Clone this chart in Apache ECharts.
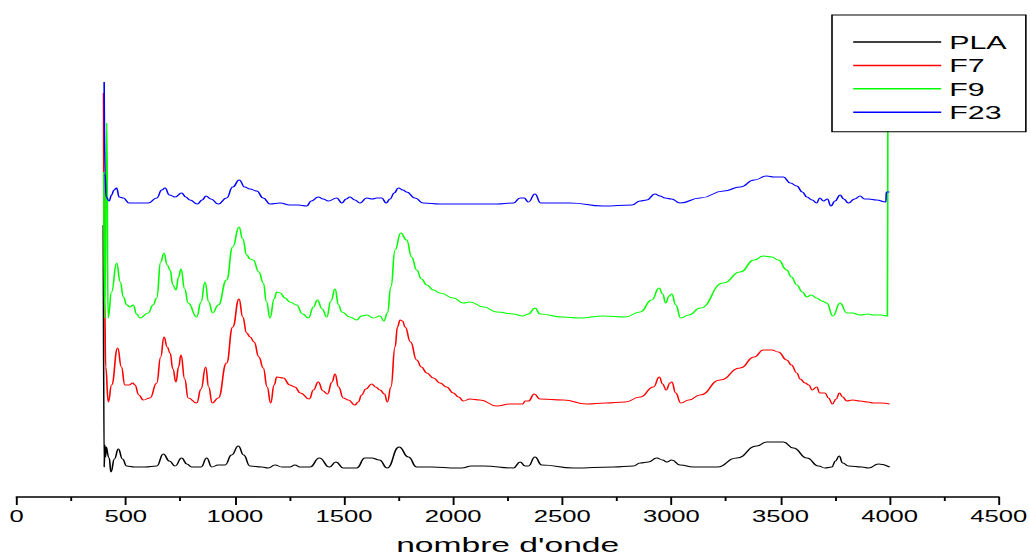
<!DOCTYPE html>
<html>
<head>
<meta charset="utf-8">
<script src="https://cdn.jsdelivr.net/npm/echarts@6.0.0/dist/echarts.min.js"></script>
<style>
  html, body { margin: 0; padding: 0; background: #fff; overflow: hidden; }
  #wrap { width: 1030px; height: 556px; overflow: hidden; }
  /* the figure is laid out narrow and stretched horizontally */
  #chart { width: 644px; height: 556px; transform: scaleX(1.6); transform-origin: 0 0; }
</style>
</head>
<body>
<div id="wrap"><div id="chart"></div></div>
<script>
// FTIR spectra, stacked with vertical offsets: [wavenumber (cm-1), intensity (a.u.)]
const seriesNames = ['PLA', 'F7', 'F9', 'F23'];
const seriesColors = ['#000000', '#ff0000', '#00ff00', '#0000ff'];

const PLA = [[397,272],[401,30],[404,52],[407,40],[411,50],[416,50],[424,39],[432,25],[448,38],[466,48],[485,38],[504,31],[540,30],[588,30],[642,31],[672,43],[700,36],[726,31],[756,39],[780,33],[802,30],[845,30],[871,39],[894,30],[924,32],[955,32],[985,42],[1016,51],[1040,42],[1069,31],[1123,30],[1153,29],[1184,32],[1215,30],[1252,30],[1275,32],[1298,30],[1344,30],[1387,39],[1433,30],[1463,35],[1497,29],[1558,29],[1596,39],[1627,39],[1662,37],[1698,29],[1752,50],[1795,40],[1833,30],[1900,30],[2017,29],[2039,29],[2085,31],[2138,31],[2276,29],[2307,35],[2330,31],[2345,31],[2375,40],[2406,32],[2551,29],[2734,30],[2826,31],[2857,34],[2895,35],[2933,39],[2960,37],[2979,35],[3002,37],[3040,32],[3101,30],[3208,30],[3300,39],[3391,51],[3437,55],[3513,55],[3559,49],[3621,39],[3674,31],[3704,29],[3735,30],[3752,36],[3769,41],[3785,34],[3812,31],[3873,30],[3904,29],[3949,33],[4000,30]];

const F7 = [[398,404],[403,200],[408,130],[420,95],[435,112],[463,149],[480,130],[496,112],[515,112],[532,114],[542,112],[560,102],[580,97],[611,99],[642,114],[660,140],[675,160],[690,150],[703,144],[716,128],[730,115],[742,130],[753,142],[770,118],[786,99],[825,94],[845,108],[866,130],[880,110],[896,94],[924,99],[962,134],[990,170],[1019,198],[1036,180],[1054,164],[1070,160],[1088,155],[1110,140],[1130,129],[1148,110],[1164,94],[1180,112],[1192,120],[1222,119],[1252,112],[1275,110],[1300,104],[1341,98],[1360,107],[1382,115],[1404,106],[1424,103],[1445,115],[1459,123],[1475,110],[1497,99],[1520,97],[1550,92],[1565,95],[1581,102],[1600,108],[1627,113],[1645,110],[1665,107],[1685,103],[1699,95],[1715,110],[1734,150],[1745,170],[1757,177],[1768,176],[1780,170],[1805,155],[1833,137],[1855,130],[1879,124],[1910,119],[1940,114],[1970,110],[2001,104],[2025,100],[2047,96],[2077,98],[2123,97],[2200,91],[2260,93],[2319,93],[2330,96],[2345,96],[2372,103],[2398,98],[2505,97],[2612,93],[2700,94],[2788,95],[2857,100],[2918,110],[2945,120],[2960,113],[2976,107],[2994,114],[3002,115],[3020,104],[3043,94],[3080,97],[3132,102],[3223,117],[3315,129],[3380,140],[3421,147],[3460,147],[3490,145],[3529,137],[3550,132],[3575,124],[3590,118],[3613,114],[3630,112],[3645,107],[3666,110],[3680,104],[3704,104],[3720,99],[3738,93],[3755,98],[3770,104],[3785,100],[3804,96],[3830,97],[3865,96],[3900,95],[3926,94],[3960,94],[4000,93]];

const F9 = [[399,325],[403,179],[413,374],[419,179],[435,205],[458,234],[475,215],[489,200],[505,192],[519,190],[534,192],[550,183],[565,179],[603,184],[625,192],[642,199],[660,235],[675,244],[690,232],[703,227],[716,212],[730,207],[742,220],[753,228],[770,208],[786,194],[825,180],[845,195],[863,215],[880,195],[898,184],[924,192],[962,217],[990,250],[1019,270],[1036,258],[1054,242],[1070,238],[1084,237],[1110,225],[1130,214],[1145,195],[1161,179],[1180,198],[1192,205],[1207,204],[1230,199],[1252,195],[1283,192],[1310,183],[1337,179],[1360,190],[1378,197],[1400,188],[1421,180],[1440,196],[1459,208],[1475,192],[1490,185],[1527,180],[1558,177],[1580,181],[1604,182],[1635,179],[1665,181],[1683,176],[1699,184],[1715,210],[1734,247],[1760,264],[1787,257],[1810,240],[1833,227],[1855,218],[1879,212],[1910,207],[1940,204],[2001,199],[2047,194],[2077,195],[2140,190],[2200,185],[2276,183],[2319,181],[2345,183],[2375,189],[2398,183],[2500,180],[2581,179],[2688,181],[2788,180],[2857,185],[2910,197],[2944,209],[2960,203],[2974,194],[2990,201],[3002,203],[3020,192],[3043,179],[3080,182],[3132,189],[3238,214],[3315,225],[3380,237],[3421,241],[3460,240],[3490,237],[3529,227],[3550,220],[3575,212],[3600,205],[3621,200],[3640,202],[3666,199],[3690,196],[3712,194],[3740,181],[3773,194],[3804,184],[3830,184],[3865,182],[3900,183],[3926,182],[3960,182],[3990,181],[3992,380]];

const F23 = [[401,415],[405,324],[410,300],[424,296],[435,302],[446,307],[458,309],[470,300],[489,299],[515,294],[542,294],[603,294],[642,299],[665,307],[680,309],[700,302],[726,300],[756,304],[775,300],[794,297],[828,293],[850,297],[868,301],[890,298],[924,293],[962,299],[990,310],[1020,317],[1045,310],[1069,308],[1100,306],[1130,299],[1161,293],[1207,294],[1252,292],[1290,292],[1329,291],[1350,296],[1382,300],[1405,298],[1428,296],[1467,299],[1490,294],[1510,298],[1527,300],[1550,297],[1573,294],[1604,299],[1630,298],[1650,299],[1673,299],[1693,294],[1711,298],[1730,304],[1749,309],[1770,307],[1787,305],[1825,299],[1863,294],[1940,293],[2077,293],[2200,293],[2276,294],[2307,299],[2325,299],[2345,295],[2375,303],[2401,294],[2536,294],[2688,291],[2819,292],[2857,296],[2887,297],[2925,303],[2948,301],[2971,299],[3000,298],[3040,294],[3132,299],[3240,306],[3315,310],[3380,317],[3437,321],[3470,320],[3513,320],[3545,314],[3575,311],[3600,305],[3621,300],[3645,297],[3666,294],[3680,299],[3697,296],[3715,298],[3731,291],[3750,296],[3773,302],[3790,298],[3811,294],[3840,298],[3865,301],[3885,298],[3903,298],[3940,297],[3983,295],[3985,305],[4000,305]];

const spectra = [PLA, F7, F9, F23];

// wavenumber axis
const xMin = 0, xMax = 4500, xStep = 500;
const yMin = 0, yMax = 497;

const FONT = '"Liberation Sans", Arial, Helvetica, sans-serif';

const chart = echarts.init(document.getElementById('chart'), null, { renderer: 'svg' });

chart.setOption({
  animation: false,
  backgroundColor: '#ffffff',
  grid: { left: 10.4, right: 19.8, top: 0, bottom: 59, outerBoundsMode: 'none' },
  xAxis: {
    type: 'value', min: xMin, max: xMax, interval: xStep,
    name: "nombre d'onde", nameLocation: 'middle', nameGap: 37,
    nameTextStyle: { fontSize: 21, color: '#000', fontFamily: FONT },
    axisLine: { show: true, onZero: false, lineStyle: { color: '#000', width: 1.5 } },
    axisTick: { show: true, length: 8, lineStyle: { color: '#000', width: 1.2 } },
    minorTick: { show: true, splitNumber: 2, length: 4, lineStyle: { color: '#000', width: 1.2 } },
    axisLabel: {
      fontSize: 16, color: '#000', margin: 12, fontFamily: FONT,
      formatter: (v) => String(v)
    },
    splitLine: { show: false },
    minorSplitLine: { show: false }
  },
  yAxis: { type: 'value', min: yMin, max: yMax, show: false },
  legend: {
    orient: 'vertical', left: 520, top: 15,
    padding: [17, 12, 9.5, 12.5],
    itemWidth: 55, itemHeight: 14, itemGap: 3.4,
    // plain line samples: the marker symbol is made invisible
    itemStyle: { opacity: 0 },
    lineStyle: { width: 1.5 },
    backgroundColor: '#fff', borderColor: '#000', borderWidth: 1, borderRadius: 0,
    selectedMode: false,
    textStyle: { fontSize: 19, color: '#000', fontFamily: FONT, lineHeight: 20 },
    data: seriesNames
  },
  series: seriesNames.map((name, i) => ({
    name,
    type: 'line',
    data: spectra[i],
    symbol: 'none',
    showSymbol: false,
    smooth: 0.5,
    smoothMonotone: 'x',
    color: seriesColors[i],
    lineStyle: { color: seriesColors[i], width: 1 },
    emphasis: { disabled: true },
    z: 2
  }))
});
</script>
</body>
</html>
